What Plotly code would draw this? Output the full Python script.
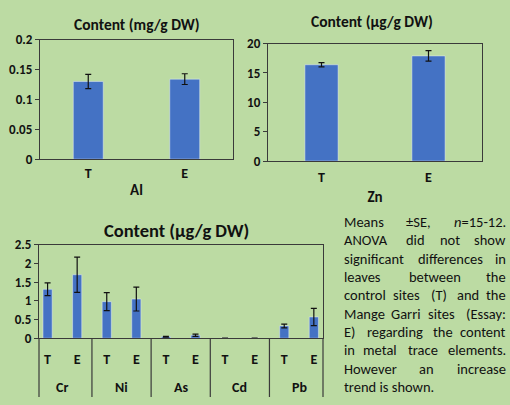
import plotly.graph_objects as go

# ---- data ----
sites = ["T", "E"]
al_mean = [0.130, 0.134]
al_se = [0.012, 0.009]
zn_mean = [16.4, 17.9]
zn_se = [0.35, 0.9]
metals = ["Cr", "Ni", "As", "Cd", "Pb"]
tr_mean = [1.31, 1.70, 0.98, 1.05, 0.04, 0.08, 0.005, 0.005, 0.33, 0.57]
tr_se = [0.17, 0.47, 0.24, 0.32, 0.01, 0.03, 0.002, 0.002, 0.05, 0.23]

note_lines = [
    "Means ±SE, <i>n</i>=15-12.",
    "ANOVA did not show",
    "significant differences in",
    "leaves between the",
    "control sites (T) and the",
    "Mange Garri sites (Essay:",
    "E) regarding the content",
    "in metal trace elements.",
    "However an increase",
    "trend is shown.",
]

FONT = "Carlito, Lato, sans-serif"
BLUE = "#4472C4"
AX = "#3a3a3a"
INK = "#111111"
W, H = 510, 405

fig = go.Figure()

def px_x(p):
    return p / W

def px_y(p):
    return 1 - p / H

err_style = dict(type="data", thickness=1.2, width=3, color=INK)

fig.add_trace(go.Bar(x=sites, y=al_mean, error_y=dict(array=al_se, **err_style),
                     marker_color=BLUE, xaxis="x", yaxis="y", showlegend=False))
fig.add_trace(go.Bar(x=sites, y=zn_mean, error_y=dict(array=zn_se, **err_style),
                     marker_color=BLUE, xaxis="x2", yaxis="y2", showlegend=False))

ids = [f"{m}-{s}" for m in metals for s in sites]
sub = sites * len(metals)
fig.add_trace(go.Bar(x=ids, y=tr_mean, error_y=dict(array=tr_se, **err_style),
                     marker_color=BLUE, xaxis="x3", yaxis="y3", showlegend=False))

tickfont = dict(family=FONT, size=13, color=INK, weight="bold")
catfont = dict(family=FONT, size=14, color=INK, weight="bold")
common_y = dict(showline=True, linecolor=AX, linewidth=1.2, mirror=True, ticks="outside",
                ticklen=4, tickcolor=AX, showgrid=False, zeroline=False, tickfont=tickfont)
common_x = dict(showline=True, linecolor=AX, linewidth=1.2, mirror=True,
                showgrid=False, zeroline=False, tickfont=catfont, tickangle=0,
                ticks="outside", tickcolor="rgba(0,0,0,0)")

y3_bottom, y3_top = 344, 247
fig.update_layout(
    width=W, height=H,
    margin=dict(l=0, r=0, t=0, b=0),
    paper_bgcolor="#bcdba3",
    plot_bgcolor="rgba(0,0,0,0)",
    bargap=0.69,
    font=dict(family=FONT, color=INK),
    xaxis=dict(domain=[px_x(40), px_x(233)], anchor="y", ticklen=1,
               title=dict(text="Al", font=dict(family=FONT, size=15, weight="bold"), standoff=3),
               **common_x),
    yaxis=dict(domain=[px_y(158), px_y(34)], anchor="x", range=[0, 0.2], dtick=0.05,
               **common_y),
    xaxis2=dict(domain=[px_x(268), px_x(482)], anchor="y2", ticklen=3,
                title=dict(text="Zn", font=dict(family=FONT, size=15, weight="bold"), standoff=6),
                **common_x),
    yaxis2=dict(domain=[px_y(160), px_y(38)], anchor="x2", range=[0, 20], dtick=5,
                **common_y),
    xaxis3=dict(domain=[px_x(39), px_x(323)], anchor="y3", type="category",
                range=[-0.29, 9.31], tickvals=ids, ticktext=sub, ticklen=8,
                **common_x),
    yaxis3=dict(domain=[px_y(y3_bottom), px_y(y3_top)], anchor="x3", range=[0, 2.5], dtick=0.5,
                **common_y),
)

# group labels and dividers of the trace-element axis
for g, m in enumerate(metals):
    fig.add_annotation(text=m, x=2 * g + 0.5, xref="x3", y=px_y(395), yref="paper",
                       showarrow=False, xanchor="center", yanchor="middle",
                       font=catfont)
div_line = dict(color=AX, width=1.2)
for g in range(1, len(metals)):
    fig.add_shape(type="line", xref="x3", yref="paper", x0=2 * g - 0.5, x1=2 * g - 0.5,
                  y0=px_y(y3_bottom), y1=0, line=div_line)
for xd in (0, 1):
    fig.add_shape(type="line", xref="x3 domain", yref="paper", x0=xd, x1=xd,
                  y0=px_y(y3_bottom), y1=0, line=div_line)

ann = [
    dict(text="Content (mg/g DW)", x=px_x(137), y=px_y(18), size=15.5),
    dict(text="Content (µg/g DW)", x=px_x(372), y=px_y(15), size=15.5),
    dict(text="Content (µg/g DW)", x=px_x(176), y=px_y(232), size=18.5),
]
for a in ann:
    fig.add_annotation(text=a["text"], x=a["x"], y=a["y"], xref="paper", yref="paper",
                       showarrow=False, xanchor="center", yanchor="middle",
                       font=dict(family=FONT, size=a["size"], color=INK, weight="bold"))

# approximate glyph advance widths (per 1000 em)
WID = {c: 556 for c in "abdeghnopqu0123456789"}
WID.update({"c": 500, "k": 500, "s": 500, "v": 500, "x": 500, "y": 500, "z": 500,
            "f": 278, "t": 278, "i": 222, "j": 222, "l": 222, "r": 333, "m": 833, "w": 722,
            "A": 667, "E": 667, "G": 778, "H": 722, "M": 833, "N": 722, "O": 778,
            "S": 667, "T": 611, "V": 667, "(": 333, ")": 333, ".": 278, ",": 278,
            ":": 278, "-": 333, "=": 584, "±": 584})

NOTE_SIZE = 14.5
def est_width(word):
    w = word.replace("<i>", "").replace("</i>", "")
    return sum(WID.get(c, 556) for c in w) / 1000 * NOTE_SIZE * 0.95

# justified note text: first word left, last word right, middle words spread
x0, x1 = 342, 508
y0, dy = 223, 19.1
last_idx = len(note_lines) - 1
for i, line in enumerate(note_lines):
    yy = px_y(y0 + i * dy)
    nf = dict(family=FONT, size=NOTE_SIZE, color=INK)
    if i == last_idx:
        fig.add_annotation(text=line, x=px_x(x0), y=yy, xref="paper", yref="paper",
                           showarrow=False, xanchor="left", yanchor="middle", font=nf)
        continue
    words = line.split(" ")
    lens = [est_width(w) for w in words]
    gap = ((x1 - x0) - sum(lens)) / max(len(words) - 1, 1)
    cx = x0
    for k, (w, L) in enumerate(zip(words, lens)):
        if k == 0:
            xa, xp = "left", cx
        elif k == len(words) - 1:
            xa, xp = "right", x1
        else:
            xa, xp = "center", cx + L / 2
        fig.add_annotation(text=w, x=px_x(xp), y=yy, xref="paper", yref="paper",
                           showarrow=False, xanchor=xa, yanchor="middle", font=nf)
        cx += L + gap

post = ("document.documentElement.style.margin='0';document.body.style.margin='0';"
        "document.body.style.overflow='hidden';"
        "var gd=document.getElementById('{plot_id}');"
        "gd.style.position='fixed';gd.style.top='0';gd.style.left='0';")
fig.write_html("out.html", config={"displayModeBar": False}, post_script=post)
